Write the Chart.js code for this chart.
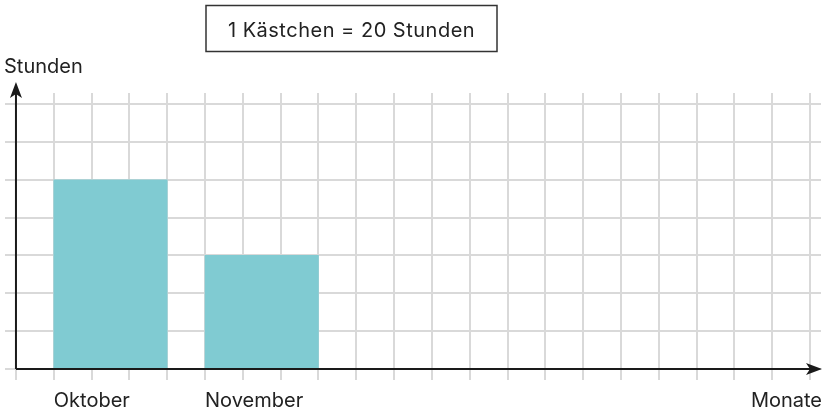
<!DOCTYPE html>
<html lang="de">
<head>
<meta charset="utf-8">
<script src="https://cdn.jsdelivr.net/npm/chart.js@4.4.1/dist/chart.umd.min.js"></script>
<style>
  html, body { margin: 0; padding: 0; background: #fff; }
  #box { position: relative; width: 833px; height: 409px; }
</style>
</head>
<body>
<div id="box"><canvas id="grafico"></canvas></div>
<script>
const monate = ['Oktober', 'November']
const stunden = [100, 60]
const stundenProKaestchen = 20
const titel = '1 Kästchen = 20 Stunden'
const achseY = 'Stunden'
const achseX = 'Monate'

// raster: 21 Spalten, 7 Zeilen, Balken 3 Kästchen breit, alle 4 Spalten
const spalten = 21
const zeilen = 7
const ersteSpalte = 1
const abstand = 4
const breite = 3
const rand = 0.29

const schrift = 'Inter, "Open Sans", sans-serif'
const textFarbe = '#222'

const punkte = stunden.map(function(wert, i) {
  return { x: ersteSpalte + i * abstand + breite / 2, y: wert }
})

function pfeil(ctx, x1, y1, x2, y2) {
  const winkel = Math.atan2(y2 - y1, x2 - x1)
  const lang = 16, halb = 6
  ctx.beginPath()
  ctx.moveTo(x1, y1)
  ctx.lineTo(x2 - Math.cos(winkel) * lang * 0.7, y2 - Math.sin(winkel) * lang * 0.7)
  ctx.stroke()
  ctx.beginPath()
  ctx.moveTo(x2, y2)
  ctx.lineTo(x2 - Math.cos(winkel) * lang - Math.sin(winkel) * halb, y2 - Math.sin(winkel) * lang + Math.cos(winkel) * halb)
  ctx.lineTo(x2 - Math.cos(winkel) * lang * 0.75, y2 - Math.sin(winkel) * lang * 0.75)
  ctx.lineTo(x2 - Math.cos(winkel) * lang + Math.sin(winkel) * halb, y2 - Math.sin(winkel) * lang - Math.cos(winkel) * halb)
  ctx.closePath()
  ctx.fill()
}

const beschriftung = {
  id: 'beschriftung',
  afterDraw: function(chart) {
    const ctx = chart.ctx
    const xs = chart.scales.x
    const ys = chart.scales.y
    const x0 = xs.getPixelForValue(0)
    const y0 = ys.getPixelForValue(0)
    ctx.save()
    ctx.strokeStyle = '#1a1a1a'
    ctx.fillStyle = '#1a1a1a'
    ctx.lineWidth = 2
    pfeil(ctx, x0, y0, chart.chartArea.right + 1, y0)
    pfeil(ctx, x0, y0, x0, chart.chartArea.top - 11)

    ctx.fillStyle = textFarbe
    ctx.font = '20px ' + schrift
    ctx.textBaseline = 'alphabetic'
    ctx.textAlign = 'left'
    ctx.fillText(achseY, 4, 73)
    ctx.textAlign = 'right'
    ctx.fillText(achseX, chart.chartArea.right + 1, 407)

    ctx.strokeStyle = '#333'
    ctx.lineWidth = 1.5
    ctx.strokeRect(206, 5.5, 291, 46)
    ctx.textAlign = 'center'
    ctx.letterSpacing = '0.5px'
    ctx.fillText(titel, 351.5, 37)
    ctx.restore()
  }
}

new Chart(document.getElementById('grafico'), {
  type: 'bar',
  data: {
    datasets: [{
      data: punkte,
      backgroundColor: '#80cbd2',
      borderWidth: 0,
      barThickness: 'flex',
      categoryPercentage: 1,
      barPercentage: breite / abstand
    }]
  },
  options: {
    responsive: true,
    maintainAspectRatio: false,
    animation: false,
    layout: { padding: { left: 5, right: 12, top: 93, bottom: 0 } },
    plugins: { legend: { display: false }, tooltip: { enabled: false }, title: { display: false } },
    scales: {
      x: {
        type: 'linear',
        min: -rand,
        max: spalten + rand,
        offset: false,
        border: { display: false },
        grid: { color: '#d9d9d9', lineWidth: 2, drawTicks: false, offset: false },
        afterFit: function(scale) { scale.height = 29 },
        ticks: {
          stepSize: 1,
          includeBounds: false,
          autoSkip: false,
          maxTicksLimit: 40,
          maxRotation: 0,
          align: 'start',
          padding: 11,
          color: textFarbe,
          font: { family: schrift, size: 20, lineHeight: 1 },
          callback: function(wert) {
            const i = (wert - ersteSpalte) / abstand
            return Number.isInteger(i) && i >= 0 && i < monate.length ? monate[i] : ''
          }
        }
      },
      y: {
        min: -rand * stundenProKaestchen,
        max: (zeilen + rand) * stundenProKaestchen,
        border: { display: false },
        grid: { color: '#d9d9d9', lineWidth: 2, drawTicks: false },
        ticks: { display: false, stepSize: stundenProKaestchen, includeBounds: false }
      }
    }
  },
  plugins: [beschriftung]
})
</script>
</body>
</html>
